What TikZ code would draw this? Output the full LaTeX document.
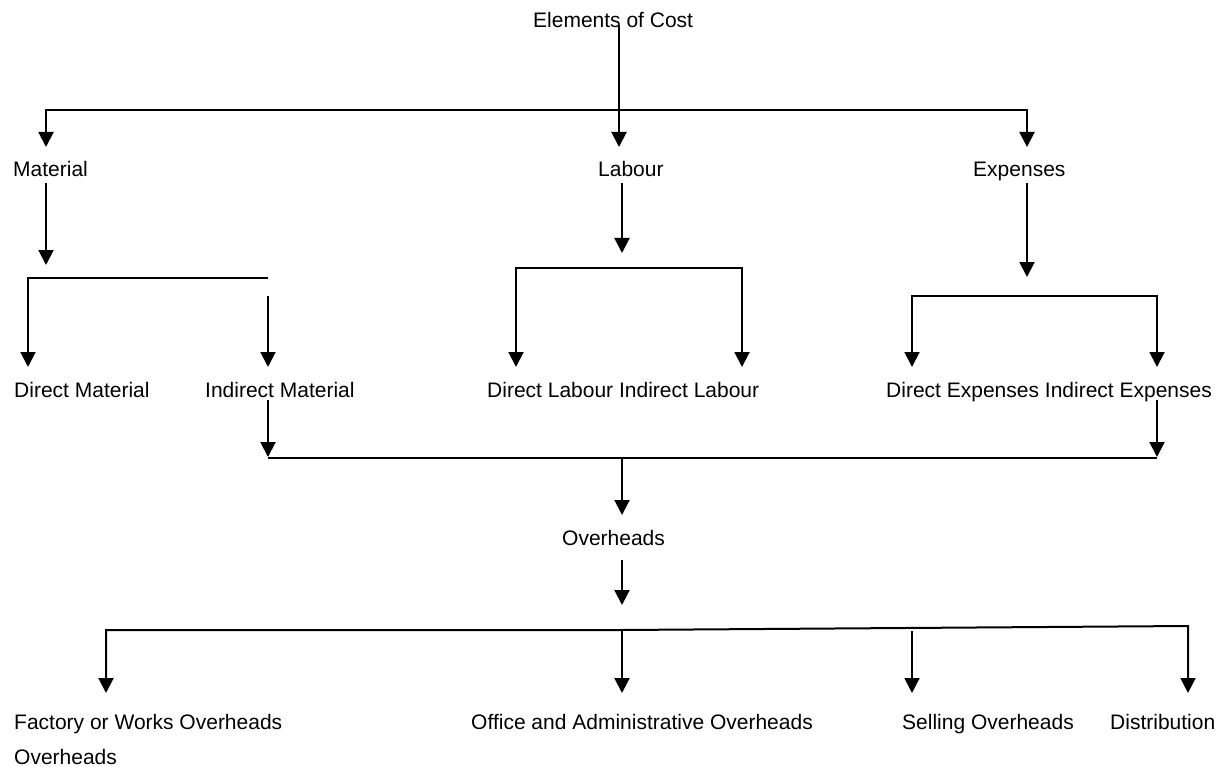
\documentclass[tikz,border=0pt]{standalone}
\usepackage{fontspec}
\setmainfont{Liberation Sans}
\usetikzlibrary{arrows.meta}
\begin{document}
\begin{tikzpicture}[x=1pt,y=-1pt,
  lbl/.style={anchor=base west,inner sep=0pt,font=\fontsize{21}{25}\selectfont},
  conn/.style={line width=2pt,line join=miter},
  arr/.style={conn,-{Triangle[length=15pt,width=15pt]}},
  arr2/.style={conn,{Triangle[length=15pt,width=15pt]}-{Triangle[length=15pt,width=15pt]}}]
\useasboundingbox (0,0) rectangle (1222,767);
% texts
\node[lbl] (eoc) at (533,28) {Elements of Cost};
\node[lbl] (mat) at (13,177) {Material};
\node[lbl] (lab) at (598,177) {Labour};
\node[lbl] (exp) at (973,177) {Expenses};
\node[lbl] (dm) at (14,397) {Direct Material};
\node[lbl] (im) at (205,397) {Indirect Material};
\node[lbl] (dl) at (487,397) {Direct Labour Indirect Labour};
\node[lbl] (de) at (886,397) {Direct Expenses Indirect Expenses};
\node[lbl] (ovh) at (562,545) {Overheads};
\node[lbl] (fac) at (14,729) {Factory or Works Overheads};
\node[lbl] (fac2) at (14,764) {Overheads};
\node[lbl] (off) at (471,729) {Office and Administrative Overheads};
\node[lbl] (sel) at (902,729) {Selling Overheads};
\node[lbl] (dis) at (1110,729) {Distribution};
% junction coordinates
\coordinate (e0) at (619,25);
\coordinate (labtip) at (619,147);
\coordinate (b1l) at (46,110);
\coordinate (b1r) at (1027,110);
\coordinate (mattip) at (46,147);
\coordinate (exptip) at (1027,147);
% material branch
\coordinate (m0) at (46,183);
\coordinate (m1) at (46,265);
\coordinate (mbl) at (28,278);
\coordinate (mbr) at (268,278);
\coordinate (dmtip) at (28,367);
\coordinate (im0) at (268,296);
\coordinate (imtip) at (268,367);
% labour branch
\coordinate (l0) at (622,183);
\coordinate (l1) at (622,253);
\coordinate (lbl0) at (516,268);
\coordinate (lbr) at (742,268);
\coordinate (dltip) at (516,367);
\coordinate (iltip) at (742,367);
% expenses branch
\coordinate (x0) at (1027,183);
\coordinate (x1) at (1027,277);
\coordinate (xbl) at (912,296);
\coordinate (xbr) at (1157,296);
\coordinate (detip) at (912,367);
\coordinate (ietip) at (1157,367);
% overheads collection
\coordinate (im1) at (268,400);
\coordinate (im2) at (268,457);
\coordinate (ie1) at (1157,400);
\coordinate (ie2) at (1157,457);
\coordinate (obl) at (268,458);
\coordinate (obr) at (1157,458);
\coordinate (obm) at (622,458);
\coordinate (ovtip) at (622,515);
\coordinate (ov0) at (622,560);
\coordinate (ov1) at (622,605);
% bottom bar
\coordinate (bbl) at (106,630);
\coordinate (bbm) at (622,630);
\coordinate (bbr) at (1188,626);
\coordinate (factip) at (106,693);
\coordinate (offtip) at (622,693);
\coordinate (sel0) at (912,631);
\coordinate (seltip) at (912,693);
\coordinate (distip) at (1188,693);
% connectors
\draw[arr] (e0) -- (labtip);
\draw[arr2] (mattip) -- (b1l) -- (b1r) -- (exptip);
\draw[arr] (m0) -- (m1);
\draw[arr] (mbr) -- (mbl) -- (dmtip);
\draw[arr] (im0) -- (imtip);
\draw[arr] (l0) -- (l1);
\draw[arr2] (dltip) -- (lbl0) -- (lbr) -- (iltip);
\draw[arr] (x0) -- (x1);
\draw[arr2] (detip) -- (xbl) -- (xbr) -- (ietip);
\draw[arr] (im1) -- (im2);
\draw[arr] (ie1) -- (ie2);
\draw[conn] (obl) -- (obr);
\draw[arr] (obm) -- (ovtip);
\draw[arr] (ov0) -- (ov1);
\draw[arr2] (factip) -- (bbl) -- (bbm) -- (bbr) -- (distip);
\draw[arr] (bbm) -- (offtip);
\draw[arr] (sel0) -- (seltip);
\end{tikzpicture}
\end{document}
